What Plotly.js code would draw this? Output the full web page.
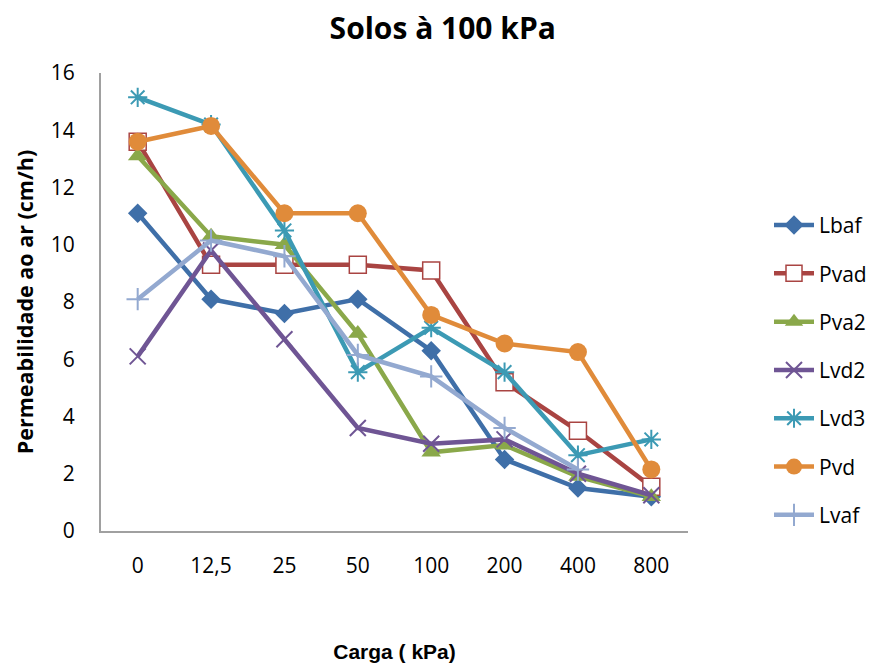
<!DOCTYPE html>
<html><head><meta charset="utf-8">
<script src="https://cdn.plot.ly/plotly-3.0.1.min.js"></script>
<style>html,body{margin:0;padding:0;background:#fff}#chart{width:875px;height:668px}</style>
</head><body><div id="chart"></div>
<script>
const categories = ["0", "12,5", "25", "50", "100", "200", "400", "800"];
const Lbaf = [11.1, 8.1, 7.6, 8.1, 6.3, 2.5, 1.5, 1.2];
const Pvad = [13.6, 9.3, 9.3, 9.3, 9.1, 5.2, 3.5, 1.55];
const Pva2 = [13.1, 10.3, 10.0, 6.9, 2.75, 3.0, 1.9, 1.2];
const Lvd2 = [6.1, 9.8, 6.7, 3.6, 3.05, 3.2, 2.0, 1.25];
const Lvd3 = [15.15, 14.2, 10.5, 5.55, 7.1, 5.55, 2.65, 3.2];
const Pvd = [13.6, 14.15, 11.1, 11.1, 7.55, 6.55, 6.25, 2.15];
const Lvaf = [8.1, 10.15, 9.6, 6.15, 5.4, 3.6, 2.15, null];

const seriesNames = ["Lbaf", "Pvad", "Pva2", "Lvd2", "Lvd3", "Pvd", "Lvaf"];
const seriesValues = [Lbaf, Pvad, Pva2, Lvd2, Lvd3, Pvd, Lvaf];
const colors = ["#3f6fa8", "#a94442", "#8aa84a", "#6f5594", "#3c9ab4", "#e08b3a", "#93a9d0"];
const markers = [
  {symbol: "diamond", size: 15},
  {symbol: "square", size: 17, color: "#ffffff", line: {color: "#a94442", width: 1.5}},
  {symbol: "triangle-up", size: 17},
  {symbol: "x-thin-open", size: 16, line: {color: "#6f5594", width: 2}},
  {symbol: "asterisk-open", size: 16, line: {color: "#3c9ab4", width: 2}},
  {symbol: "circle", size: 18},
  {symbol: "cross-thin-open", size: 16, line: {color: "#93a9d0", width: 2}}
];

const data = seriesNames.map((n, i) => {
  const m = Object.assign({color: colors[i]}, markers[i]);
  return {
    type: "scatter", mode: "lines+markers", name: n, legendgroup: n,
    x: categories, y: seriesValues[i],
    line: {color: colors[i], width: 4.5},
    marker: m
  };
});

const layout = {
  width: 875, height: 668,
  margin: {l: 101, r: 187, t: 73, b: 137, autoexpand: false},
  paper_bgcolor: "#fff", plot_bgcolor: "#fff",
  showlegend: true,
  title: {text: "<b>Solos à 100 kPa</b>", x: 0.506, xanchor: "center", y: 0.958, yanchor: "middle",
    font: {family: "Open Sans, sans-serif", size: 30, color: "#000"}},
  xaxis: {
    type: "category", range: [-0.5, 7.5], automargin: false,
    showline: true, linecolor: "#a0a0a0", linewidth: 2,
    ticks: "", showgrid: false, zeroline: false,
    tickfont: {family: "Open Sans, sans-serif", size: 21, color: "#000"},
    ticklabelstandoff: 15,
    title: {text: "<b>Carga ( kPa)</b>", standoff: 66,
      font: {family: "Liberation Sans, Arial, sans-serif", size: 21, color: "#000"}}
  },
  yaxis: {
    range: [0, 16], dtick: 2, tick0: 0, automargin: false,
    showline: true, linecolor: "#a0a0a0", linewidth: 2,
    ticks: "", showgrid: false, zeroline: false,
    tickfont: {family: "Open Sans, sans-serif", size: 21, color: "#000"},
    ticklabelstandoff: 20,
    title: {text: "<b>Permeabilidade ao ar (cm/h)</b>", standoff: 11,
      font: {family: "Open Sans, sans-serif", size: 21.5, color: "#000"}}
  },
  legend: {
    x: 1.138, xanchor: "left", y: 0.712, yanchor: "top",
    font: {family: "Open Sans, sans-serif", size: 21, color: "#000"},
    tracegroupgap: 18, itemwidth: 40, bgcolor: "rgba(0,0,0,0)"
  }
};

Plotly.newPlot("chart", data, layout, {displayModeBar: false, staticPlot: true});
</script>
</body></html>
